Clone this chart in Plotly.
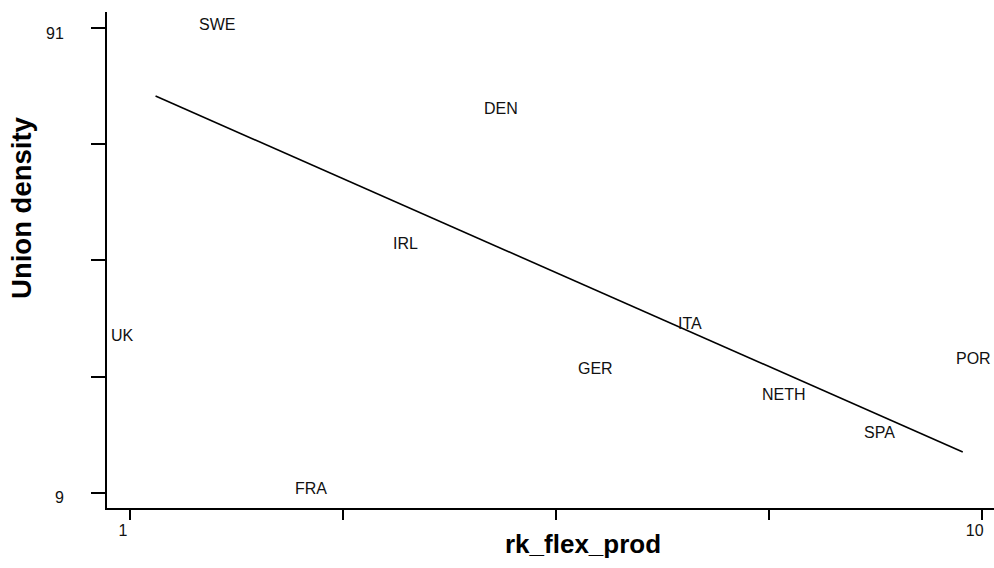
import plotly.graph_objects as go

countries = ["UK", "SWE", "FRA", "IRL", "DEN", "GER", "ITA", "NETH", "SPA", "POR"]
rk_flex_prod = [1, 2, 3, 4, 5, 6, 7, 8, 9, 10]
union_density = [36.1, 91.0, 9.0, 52.3, 76.1, 30.3, 38.1, 25.7, 19.0, 32.0]

fit_x = [1.27, 9.80]
fit_y = [79.0, 16.2]

x_tickvals = [1, 3.25, 5.5, 7.75, 10]
x_ticktext = ["1", "", "", "", "10"]
y_tickvals = [9, 29.5, 50, 70.5, 91]
y_ticktext = ["9", "", "", "", "91"]

FONT = "Liberation Sans, Arial, Helvetica, sans-serif"

fig = go.Figure()
fig.add_trace(go.Scatter(x=fit_x, y=fit_y, mode="lines",
                         line=dict(color="black", width=1.6),
                         showlegend=False, hoverinfo="skip"))

for c, xv, yv in zip(countries, rk_flex_prod, union_density):
    fig.add_annotation(x=xv, y=yv, xref="x", yref="y", text=c, showarrow=False,
                       xanchor="center", yanchor="middle", xshift=-8, yshift=4,
                       font=dict(family=FONT, size=16, color="#111111"))

fig.add_annotation(x=0.537, y=-0.0726, xref="paper", yref="paper",
                   text="<b>rk_flex_prod</b>", showarrow=False,
                   xanchor="center", yanchor="middle",
                   font=dict(family=FONT, size=26, color="black"))
fig.add_annotation(x=-0.0958, y=0.605, xref="paper", yref="paper",
                   text="<b>Union density</b>", showarrow=False, textangle=-90,
                   xanchor="center", yanchor="middle",
                   font=dict(family=FONT, size=27.5, color="black"))

fig.update_layout(
    width=994, height=568,
    margin=dict(l=107, r=0, t=12, b=60),
    plot_bgcolor="white", paper_bgcolor="white",
    showlegend=False,
    xaxis=dict(range=[0.757, 10.13], tickvals=x_tickvals, ticktext=x_ticktext,
               showgrid=False, zeroline=False, showline=True, linecolor="black",
               linewidth=2, ticks="outside", ticklen=10, tickwidth=2,
               tickcolor="black", ticklabelshift=-7, ticklabelstandoff=-3,
               tickfont=dict(family=FONT, size=16, color="#111111")),
    yaxis=dict(range=[6.30, 93.83], tickvals=y_tickvals, ticktext=y_ticktext,
               showgrid=False, zeroline=False, showline=True, linecolor="black",
               linewidth=2, ticks="outside", ticklen=14, tickwidth=2,
               tickcolor="black", ticklabelshift=5, ticklabelstandoff=24,
               tickfont=dict(family=FONT, size=16, color="#111111")),
)

fig.write_html("out.html")
